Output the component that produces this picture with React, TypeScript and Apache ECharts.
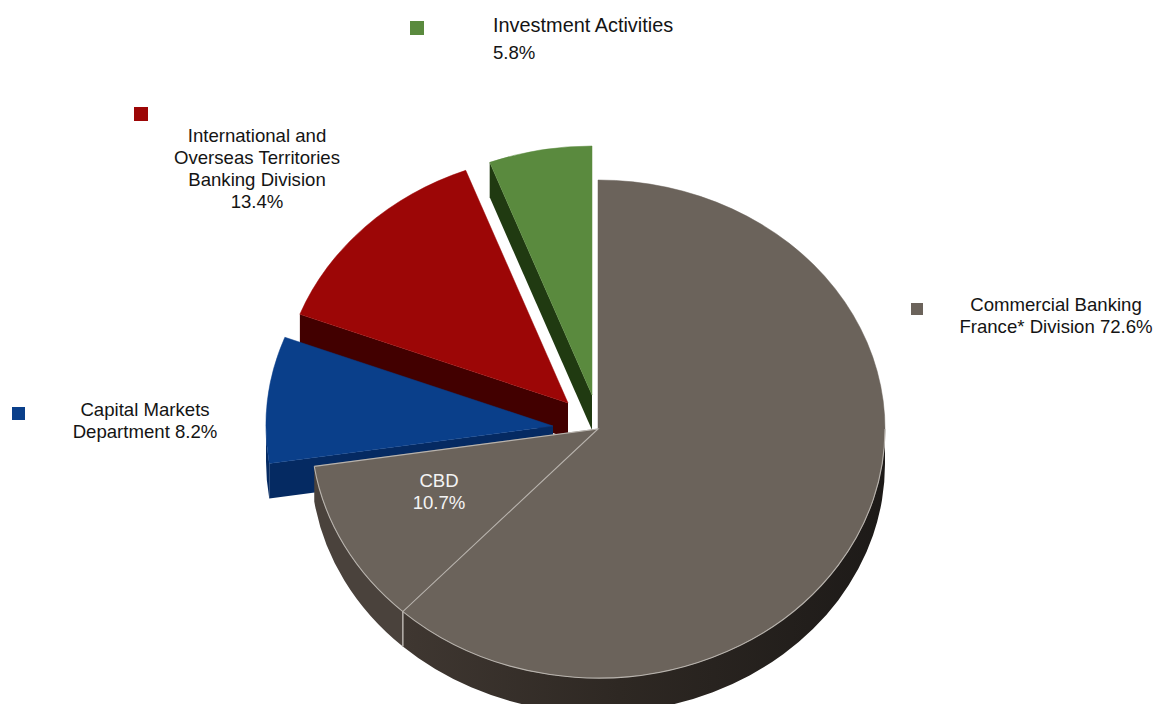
import React, { useEffect, useRef } from "react";
import * as echarts from "echarts";

// Share of net income by business line, in percent.
// The Commercial Banking France figure contains CBD, which is drawn as its own slice.
const sliceNames = [
  "Investment Activities",
  "International and Overseas Territories Banking Division",
  "Capital Markets Department",
  "CBD",
  "Commercial Banking France* Division excluding CBD",
];
const sliceValues = [5.8, 13.4, 8.2, 10.7, 61.9];

const topColors = ["#5a8a3e", "#9c0606", "#0a3f8a", "#6b635b", "#6b635b"];
const sideColors = ["#203a11", "#420000", "#052a62", "#4a423c", "#2c2622"];
const edgeColor = "#b8b3ad";

// Where each slice's tip sits: the three exploded wedges are pulled away from the pie.
const tipX = [592, 568, 553, 598, 598];
const tipY = [395, 403, 426, 429, 429];

const radiusX = 287;
const radiusY = 249;
const depth = 35;

const FONT = '"Liberation Sans", Arial, sans-serif';
const FONT_SIZE = 18.6;

const pointAt = (cx: number, cy: number, deg: number) => {
  const t = (deg * Math.PI) / 180;
  return [cx + radiusX * Math.sin(t), cy - radiusY * Math.cos(t)];
};

const arcTo = (p: number[], sweepDeg: number, clockwise: boolean) =>
  `A${radiusX} ${radiusY} 0 ${sweepDeg > 180 ? 1 : 0} ${clockwise ? 1 : 0} ${p[0]} ${p[1]}`;

// Slices run counter-clockwise from twelve o'clock, so the later ones paint over the earlier ones.
const sliceBounds = (index: number) => {
  const before = sliceValues.slice(0, index).reduce((s, v) => s + v, 0);
  const total = sliceValues.reduce((s, v) => s + v, 0);
  const end = 360 - (before / total) * 360;
  const start = end - (sliceValues[index] / total) * 360;
  return [start, end];
};

const renderSlice = (params: any) => {
  const i = params.dataIndex;
  const [a, b] = sliceBounds(i);
  const cx = tipX[i];
  const cy = tipY[i];
  const fill = sideColors[i];
  const children: any[] = [];
  const pA = pointAt(cx, cy, a);
  const pB = pointAt(cx, cy, b);

  // Cut face of the wedge at its start angle, extruded straight down.
  children.push({
    type: "path",
    shape: {
      pathData: `M${cx} ${cy}L${pA[0]} ${pA[1]}L${pA[0]} ${pA[1] + depth}L${cx} ${cy + depth}Z`,
    },
    style: { fill },
  });

  // Outer wall, only for the part of the rim that faces the viewer.
  const wallStart = Math.max(a, 90);
  const wallEnd = Math.min(b, 270);
  if (wallEnd > wallStart) {
    const w0 = pointAt(cx, cy, wallStart);
    const w1 = pointAt(cx, cy, wallEnd);
    const sweep = wallEnd - wallStart;
    const wallFill =
      i === 4
        ? {
            type: "linear",
            x: 0,
            y: 0,
            x2: 1,
            y2: 0,
            colorStops: [
              { offset: 0, color: "#3f3731" },
              { offset: 0.45, color: "#2e2823" },
              { offset: 1, color: "#1d1a18" },
            ],
          }
        : fill;
    children.push({
      type: "path",
      shape: {
        pathData:
          `M${w0[0]} ${w0[1]}` +
          arcTo(w1, sweep, true) +
          `L${w1[0]} ${w1[1] + depth}` +
          arcTo([w0[0], w0[1] + depth], sweep, false) +
          "Z",
      },
      style: { fill: wallFill },
    });
  }

  // Top face.
  children.push({
    type: "path",
    shape: {
      pathData: `M${cx} ${cy}L${pA[0]} ${pA[1]}` + arcTo(pB, b - a, true) + "Z",
    },
    style: { fill: topColors[i], stroke: topColors[i], lineWidth: 0.5 },
  });

  // Light outline of the CBD slice; on the main slice, only the front rim and the wall seam.
  if (i === 4) {
    const rimStart = pointAt(cx, cy, 90);
    const cbdEnd = pointAt(cx, cy, sliceBounds(3)[1]);
    children.push({
      type: "path",
      shape: {
        pathData:
          `M${cbdEnd[0]} ${cbdEnd[1]}L${cx} ${cy}L${pB[0]} ${pB[1]}` +
          arcTo(cbdEnd, sliceBounds(3)[1] - b, true) +
          `M${pB[0]} ${pB[1]}` +
          arcTo(rimStart, b - 90, false),
      },
      style: { fill: "none", stroke: edgeColor, lineWidth: 1.1 },
    });
    children.push({
      type: "line",
      shape: { x1: pB[0], y1: pB[1], x2: pB[0], y2: pB[1] + depth },
      style: { stroke: edgeColor, lineWidth: 1.5 },
    });
  }
  return { type: "group", children };
};

const legendText = [
  "Investment Activities",
  "5.8%",
  "International and\nOverseas Territories\nBanking Division\n13.4%",
  "Capital Markets\nDepartment 8.2%",
  "CBD\n10.7%",
  "Commercial Banking\nFrance* Division 72.6%",
];

const markerX = [410, 134, 12, 911];
const markerY = [21, 107, 407, 303];
const markerColors = ["#5a8a3e", "#9c0606", "#0a3f8a", "#6b635b"];
const markerSize = [14, 14, 13, 12];

const legendGraphics = () => {
  const label = (
    text: string,
    x: number,
    y: number,
    align: string,
    fill = "#141414",
    size = FONT_SIZE,
  ) => ({
    type: "text",
    x,
    y,
    z: 100,
    silent: true,
    style: {
      text,
      fill,
      font: `${size}px ${FONT}`,
      textAlign: align,
      textVerticalAlign: "top",
      lineHeight: 22,
    },
  });
  const markers = markerX.map((x, i) => ({
    type: "rect",
    z: 100,
    silent: true,
    shape: { x, y: markerY[i], width: markerSize[i], height: markerSize[i] },
    style: { fill: markerColors[i] },
  }));
  return [
    ...markers,
    label(legendText[0], 493, 14, "left", "#141414", 19.9),
    label(legendText[1], 493, 41, "left"),
    label(legendText[2], 257, 124, "center"),
    label(legendText[3], 145, 398, "center"),
    label(legendText[4], 439, 469, "center", "#f4f4f4"),
    label(legendText[5], 1056, 293, "center"),
  ];
};

export default function App() {
  const ref = useRef<HTMLDivElement>(null);

  useEffect(() => {
    document.body.style.margin = "0";
    const chart = echarts.init(ref.current!, undefined, { renderer: "svg" });
    chart.setOption({
      animation: false,
      backgroundColor: "#ffffff",
      series: [
        {
          type: "custom",
          coordinateSystem: "none",
          silent: true,
          data: sliceValues.map((value, i) => ({ name: sliceNames[i], value })),
          renderItem: renderSlice,
        },
      ],
      graphic: { elements: legendGraphics() },
    });
    return () => chart.dispose();
  }, []);

  return (
    <div
      ref={ref}
      style={{ position: "absolute", left: 0, top: 0, width: 1155, height: 704 }}
    />
  );
}
